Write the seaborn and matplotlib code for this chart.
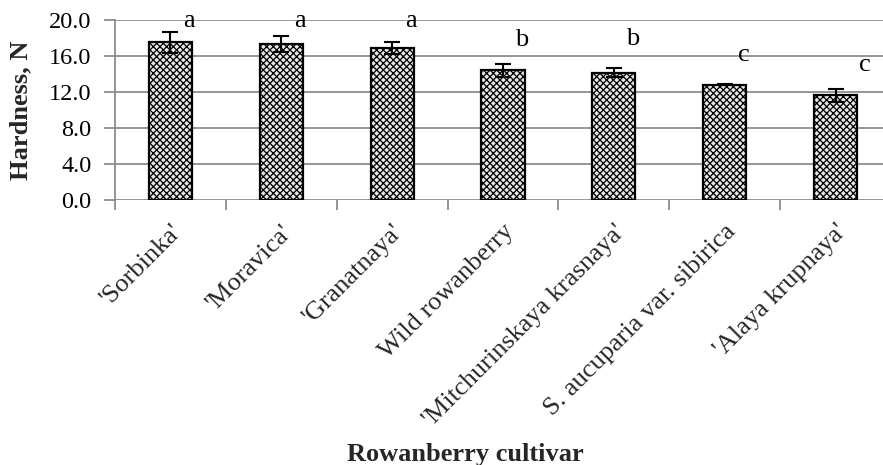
import matplotlib
matplotlib.use("Agg")
import matplotlib.pyplot as plt
import matplotlib.ticker as mticker
import seaborn as sns
import numpy as np
import pandas as pd

# Fruit hardness of rowanberry cultivars (mean ± SD) with significance groups
cultivars = ["'Sorbinka'", "'Moravica'", "'Granatnaya'", "Wild rowanberry",
             "'Mitchurinskaya krasnaya'", "S. aucuparia var. sibirica", "'Alaya krupnaya'"]
hardness = [17.5, 17.3, 16.9, 14.4, 14.15, 12.8, 11.6]
hardness_sd = [1.2, 0.9, 0.7, 0.75, 0.45, 0.08, 0.7]
groups = ["a", "a", "a", "b", "b", "c", "c"]
group_label_y = [19.2, 19.2, 19.2, 17.1, 17.2, 15.45, 14.3]
y_ticks = [0.0, 4.0, 8.0, 12.0, 16.0, 20.0]

sns.set_theme(style="white")
plt.rcParams["font.family"] = ["Liberation Serif", "DejaVu Serif"]
plt.rcParams["hatch.linewidth"] = 0.9
plt.rcParams["hatch.color"] = "black"

grid_col = "#8c8c8c"
df = pd.DataFrame({"cultivar": cultivars, "hardness": hardness})

fig = plt.figure(figsize=(8.83, 4.65), dpi=100)
ax = fig.add_axes([115 / 883, 265.5 / 465, 776 / 883, 179.5 / 465])

for yv in y_ticks:
    ax.axhline(yv, color=grid_col, lw=1.3, zorder=0)

sns.barplot(data=df, x="cultivar", y="hardness", ax=ax, width=0.39,
            color="white", edgecolor="black", linewidth=1.6, errorbar=None,
            zorder=2)
for p in ax.patches:
    p.set_hatch("xxxxx")
    p.set_facecolor("#e6e6e6")

xs = np.arange(len(cultivars))
ax.errorbar(xs, hardness, yerr=hardness_sd, fmt="none", ecolor="black",
            elinewidth=1.5, capsize=6, capthick=1.5, zorder=3)

for i, (g, gy) in enumerate(zip(groups, group_label_y)):
    dx = 0.26 if i == len(groups) - 1 else 0.17
    ax.text(i + dx, gy, g, ha="center", va="baseline", fontsize=19,
            color="black", zorder=4)

ax.set_xlim(-0.5, len(cultivars) - 0.5)
ax.set_ylim(0, 20)
ax.set_yticks(y_ticks)
ax.set_yticklabels([f"{v:.1f}" for v in y_ticks], fontsize=17.5)
ax.tick_params(axis="y", length=8, width=1.3, color=grid_col, pad=9,
               left=True, labelcolor="black")

ax.set_xticks(xs)
ax.set_xticklabels(cultivars, rotation=45, ha="right", rotation_mode="anchor",
                   fontsize=19)
ax.tick_params(axis="x", which="major", length=0, pad=15)
ax.xaxis.set_minor_locator(mticker.FixedLocator(np.arange(-0.5, len(cultivars), 1.0)))
ax.tick_params(axis="x", which="minor", length=7, width=1.3, color=grid_col,
               bottom=True, direction="out")

for side in ["top", "right", "bottom"]:
    ax.spines[side].set_visible(False)
ax.spines["left"].set_color(grid_col)
ax.spines["left"].set_linewidth(1.3)

ax.set_ylabel("Hardness, N", fontsize=19, fontweight="bold", va="center")
ax.yaxis.set_label_coords(-0.122, 0.5)
ax.set_xlabel("Rowanberry cultivar", fontsize=19, fontweight="bold", va="center")
ax.xaxis.set_label_coords(0.451, -1.42)

fig.savefig("out.png", dpi=100)
